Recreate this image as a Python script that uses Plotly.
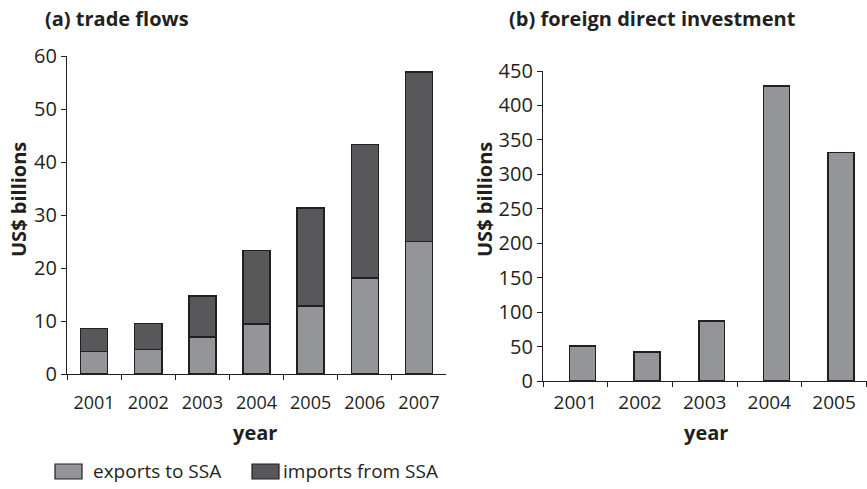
import plotly.graph_objects as go

W, H = 867, 489

# (a) trade flows, US$ billions
trade_years = ["2001", "2002", "2003", "2004", "2005", "2006", "2007"]
exports_to_ssa = [4.2, 4.6, 7.0, 9.4, 12.8, 18.1, 25.0]
imports_from_ssa = [4.35, 4.9, 7.7, 13.9, 18.5, 25.2, 32.0]

# (b) foreign direct investment, US$ billions
fdi_years = ["2001", "2002", "2003", "2004", "2005"]
fdi_values = [51, 42, 87, 428, 332]

light = "#939598"
dark = "#58585a"
edge = "#231f20"
font = "Open Sans"

fig = go.Figure()

fig.add_trace(go.Bar(x=trade_years, y=exports_to_ssa, name="exports to SSA",
                     marker=dict(color=light, line=dict(color=edge, width=1.5)),
                     width=0.5, xaxis="x", yaxis="y", showlegend=False))
fig.add_trace(go.Bar(x=trade_years, y=imports_from_ssa, name="imports from SSA",
                     marker=dict(color=dark, line=dict(color=edge, width=1.5)),
                     width=0.5, xaxis="x", yaxis="y", showlegend=False))
fig.add_trace(go.Bar(x=fdi_years, y=fdi_values, name="FDI",
                     marker=dict(color=light, line=dict(color=edge, width=1.5)),
                     width=0.4, offset=-0.09, xaxis="x2", yaxis="y2", showlegend=False))

axis_common = dict(showgrid=False, zeroline=False, showline=True, linecolor="#231f20",
                   linewidth=1.2, ticks="outside", tickcolor="#231f20", ticklen=5,
                   tickwidth=1.2, automargin=False)

fig.update_layout(
    template="none",
    width=W, height=H,
    barmode="stack",
    plot_bgcolor="white", paper_bgcolor="white",
    margin=dict(l=0, r=0, t=0, b=0, autoexpand=False),
    font=dict(family=font, color="#231f20"),
    xaxis=dict(type="category", domain=[67 / W, 446 / W], anchor="y", tickson="boundaries",
               tickfont=dict(size=18), ticklabelstandoff=12, **axis_common),
    yaxis=dict(domain=[(H - 374) / H, (H - 56) / H], anchor="x", range=[0, 60],
               tickvals=[0, 10, 20, 30, 40, 50, 60], tickfont=dict(size=20), **axis_common),
    xaxis2=dict(type="category", domain=[543 / W, 1.0], anchor="y2", tickson="boundaries",
                range=[-0.5, 4.51], tickfont=dict(size=19), ticklabelstandoff=4, **axis_common),
    yaxis2=dict(domain=[(H - 381) / H, (H - 71) / H], anchor="x2", range=[0, 450],
                dtick=50, tickfont=dict(size=20), **axis_common),
)

annotations = [
    dict(text="<b>(a) trade flows</b>", x=43 / W, y=1 - 18 / H, xanchor="left", yanchor="middle",
         font=dict(size=20)),
    dict(text="<b>(b) foreign direct investment</b>", x=507 / W, y=1 - 18 / H, xanchor="left",
         yanchor="middle", font=dict(size=20)),
    dict(text="<b>US$ billions</b>", x=18 / W, y=1 - 200 / H, textangle=-90, xanchor="center",
         yanchor="middle", font=dict(size=20)),
    dict(text="<b>US$ billions</b>", x=484 / W, y=1 - 200 / H, textangle=-90, xanchor="center",
         yanchor="middle", font=dict(size=20)),
    dict(text="<b>year</b>", x=255 / W, y=1 - 432 / H, xanchor="center", yanchor="middle",
         font=dict(size=20)),
    dict(text="<b>year</b>", x=706 / W, y=1 - 432 / H, xanchor="center", yanchor="middle",
         font=dict(size=20)),
    # legend text
    dict(text="exports to SSA", x=91 / W, y=1 - 471 / H, xanchor="left", yanchor="middle",
         font=dict(size=19)),
    dict(text="imports from SSA", x=281 / W, y=1 - 471 / H, xanchor="left", yanchor="middle",
         font=dict(size=19)),
]
for a in annotations:
    a.update(xref="paper", yref="paper", showarrow=False)
fig.update_layout(annotations=annotations)

# legend swatches
for x0, col in [(55, light), (252, dark)]:
    fig.add_shape(type="rect", xref="paper", yref="paper",
                  x0=x0 / W, x1=(x0 + 27) / W, y0=1 - 479 / H, y1=1 - 464 / H,
                  fillcolor=col, line=dict(color=edge, width=1.2))

# the page's default body margin would push the figure 8px right and down
fig.write_html("out.html", config={"displayModeBar": False},
               post_script="document.body.style.margin='0';")
